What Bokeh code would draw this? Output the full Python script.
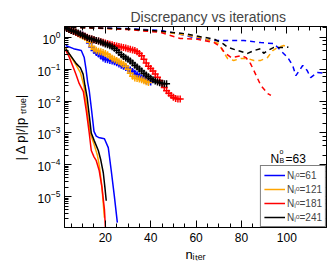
import numpy as np
from bokeh.plotting import figure
from bokeh.models import (Range1d, LinearAxis, LogAxis, Label, Legend, LegendItem,
                          SingleIntervalTicker, LogTicker, CustomJSTickFormatter)
from bokeh.embed import file_html
from bokeh.resources import INLINE

FONT = "Liberation Sans"
title_text = "Discrepancy vs iterations"
x_label = "n\u1d62\u209c\u2091\u1d63"
y_label = "| \u0394 p|/|p \u209c\u1d63\u1d64\u2091|"
annot_text = "63"
legend_values = ["61", "121", "181", "241"]
colors = ["#0000ff", "#ffa500", "#ff0000", "#000000"]

# ---- solid lines (n, log10 value) ----
blue_solid_n = [2.5, 6, 9.4, 10.7, 11.5, 12.2, 12.9, 13.8, 15, 16, 17, 19.6, 21.3, 22.6, 24, 25.3]
blue_solid_log = [-0.25, -0.35, -0.41, -0.63, -1.0, -1.4, -1.67, -2.2, -2.95, -3.1, -3.14, -3.18, -3.46, -4.18, -5.0, -5.82]
orange_solid_n = [2.5, 5, 7, 9, 10.5, 11.5, 12.5, 13.5, 15, 16.5, 17.5, 18.5, 19.6]
orange_solid_log = [-0.33, -0.62, -0.85, -1.1, -1.5, -2.0, -2.6, -3.05, -3.35, -3.7, -4.1, -4.7, -5.66]
red_solid_n = [2.5, 4, 5.9, 7, 8.5, 10.3, 11.6, 12.9, 13.8, 15, 16, 17.3, 18.5, 19.6, 20.2]
red_solid_log = [-0.4, -0.6, -0.94, -1.15, -1.45, -1.7, -2.3, -3.0, -3.55, -3.75, -3.87, -4.18, -4.7, -5.4, -6.2]
black_solid_n = [2.5, 5, 7.2, 9, 10.2, 11, 12, 13, 13.8, 15.1, 16.9, 18, 19.1, 19.8, 20.4]
black_solid_log = [-0.35, -0.6, -0.82, -0.95, -1.15, -1.5, -1.9, -2.5, -3.0, -3.24, -3.55, -3.85, -4.25, -4.7, -5.13]

# ---- "+" series, one value per iteration starting at n=2 (log10) ----
blue_plus_log = [0.31, 0.28, 0.25, 0.22, 0.19, 0.16, 0.13, 0.1, 0.07, 0.03, -0.05, -0.17, -0.3, -0.41,
                 -0.47, -0.52, -0.58, -0.64, -0.68, -0.7, -0.72, -0.74, -0.76, -0.79, -0.83, -0.87,
                 -0.9, -0.94, -0.98, -1.02, -1.07, -1.12, -1.17, -1.22, -1.27, -1.31, -1.35, -1.38, -1.4]
orange_plus_log = [0.31, 0.28, 0.25, 0.22, 0.19, 0.16, 0.12, 0.08, 0.04, 0.0, -0.04, -0.15, -0.28, -0.36,
                   -0.4, -0.43, -0.45, -0.47, -0.5, -0.54, -0.6, -0.65, -0.68, -0.72, -0.76, -0.8, -0.84,
                   -0.9, -1.0, -1.12, -1.22, -1.27, -1.29, -1.3, -1.33, -1.36, -1.39, -1.41]
red_plus_log = [0.31, 0.28, 0.25, 0.22, 0.19, 0.16, 0.13, 0.1, 0.07, 0.04, 0.01, -0.02, -0.05, -0.07,
                -0.09, -0.11, -0.13, -0.15, -0.17, -0.19, -0.21, -0.23, -0.25, -0.27, -0.28, -0.3, -0.31,
                -0.33, -0.35, -0.37, -0.39, -0.41, -0.45, -0.5, -0.57, -0.68, -0.8, -0.9, -0.97, -1.05,
                -1.15, -1.25, -1.35, -1.45, -1.57, -1.67, -1.75, -1.82, -1.88, -1.92, -1.93, -1.93]
black_plus_log = [0.31, 0.28, 0.25, 0.22, 0.2, 0.17, 0.14, 0.11, 0.07, 0.04, 0.0, -0.03, -0.05, -0.07,
                  -0.09, -0.11, -0.14, -0.17, -0.2, -0.23, -0.26, -0.29, -0.34, -0.4, -0.47, -0.54, -0.6,
                  -0.64, -0.68, -0.74, -0.8, -0.87, -0.93, -0.99, -1.05, -1.12, -1.18, -1.23, -1.28,
                  -1.33, -1.37, -1.4, -1.42, -1.44, -1.45, -1.45]

# ---- dashed lines (n, log10 value) ----
blue_dash_n = [1, 15, 30, 44.5, 52, 59, 66.4, 72.2, 81, 88.5, 94.4, 97.3, 100.4, 102.6, 104, 107, 109, 110.5, 113.5, 118]
blue_dash_log = [0.33, 0.31, 0.28, 0.22, 0.12, 0.0, -0.09, -0.09, -0.09, -0.16, -0.19, -0.41, -0.63, -0.88, -1.2, -0.88, -1.04, -1.26, -1.1, -1.13]
orange_dash_n = [1, 15, 30, 44.5, 55, 63, 70, 71.7, 73.9, 76.6, 79.7, 82.7, 85.5, 88.5, 91.5, 93.8, 96, 98.6, 100.7]
orange_dash_log = [0.33, 0.3, 0.26, 0.19, 0.08, -0.02, -0.19, -0.41, -0.66, -0.72, -0.66, -0.66, -0.72, -0.72, -0.63, -0.41, -0.31, -0.25, -0.31]
red_dash_n = [1, 15, 30, 44.5, 53, 60, 68, 71, 72.5, 75.5, 80, 82, 84, 85.5, 88.5, 91.6, 93]
red_dash_log = [0.33, 0.3, 0.25, 0.16, -0.03, -0.05, -0.16, -0.31, -0.47, -0.63, -0.57, -0.63, -0.82, -1.04, -1.5, -1.76, -1.82]
black_dash_n = [1, 15, 30, 44.5, 55, 60, 68, 72, 74, 78.4, 82.7, 85.5, 88.5, 89.8, 91.5, 94.3, 98.6, 100.7]
black_dash_log = [0.33, 0.3, 0.27, 0.2, 0.12, 0.05, -0.05, -0.2, -0.31, -0.41, -0.5, -0.41, -0.35, -0.5, -0.41, -0.31, -0.31, -0.3]

x_range = (2.0, 117.5)
y_range = (1.07e-6, 2.22)

p = figure(width=332, height=265, y_axis_type="log",
           x_range=Range1d(*x_range), y_range=Range1d(*y_range),
           output_backend="svg", toolbar_location=None,
           min_border_left=64, min_border_right=6, min_border_top=26, min_border_bottom=38)
p.xgrid.visible = False
p.ygrid.visible = False
p.outline_line_color = "black"
p.background_fill_color = "white"
p.border_fill_color = "white"

p.title.text = title_text
p.title.align = "left"
p.title.offset = 66
p.title.text_font = FONT
p.title.text_font_size = "14px"
p.title.text_font_style = "normal"
p.title.standoff = 4

blank = CustomJSTickFormatter(code="return ''")

def style_axis(ax, show_labels=True):
    ax.major_tick_in = 7
    ax.major_tick_out = 0
    ax.minor_tick_in = 4
    ax.minor_tick_out = 0
    ax.axis_line_color = "black"
    ax.major_tick_line_color = "black"
    ax.minor_tick_line_color = "black"
    ax.major_label_text_font = FONT
    ax.major_label_text_color = "black"
    ax.major_label_text_font_size = "12px"
    ax.axis_label_text_font = FONT
    ax.axis_label_text_font_style = "normal"
    ax.axis_label_text_color = "black"
    ax.axis_label_text_font_size = "13px"
    if not show_labels:
        ax.axis_label = None
        ax.formatter = blank
        ax.major_label_standoff = 0

xt = SingleIntervalTicker(interval=20, num_minor_ticks=4)
p.xaxis.ticker = xt
style_axis(p.xaxis[0])
p.xaxis[0].axis_label = x_label
p.xaxis[0].major_label_standoff = 5
p.xaxis[0].axis_label_standoff = 2
style_axis(p.yaxis[0])
p.yaxis[0].axis_label = y_label
p.yaxis[0].major_label_standoff = 4
p.yaxis[0].axis_label_standoff = 7

top = LinearAxis(ticker=SingleIntervalTicker(interval=20, num_minor_ticks=4))
style_axis(top, False)
p.add_layout(top, "above")
right = LogAxis(ticker=LogTicker())
style_axis(right, False)
p.add_layout(right, "right")

solid_n = [blue_solid_n, orange_solid_n, red_solid_n, black_solid_n]
solid_log = [blue_solid_log, orange_solid_log, red_solid_log, black_solid_log]
plus_log = [blue_plus_log, orange_plus_log, red_plus_log, black_plus_log]
dash_n = [blue_dash_n, orange_dash_n, red_dash_n, black_dash_n]
dash_log = [blue_dash_log, orange_dash_log, red_dash_log, black_dash_log]

for i in range(4):
    p.line(dash_n[i], 10 ** np.array(dash_log[i]), color=colors[i], line_width=1.5, line_dash="5 4")

for i in range(4):
    n = np.arange(2, 2 + len(plus_log[i]))
    p.scatter(n, 10 ** np.array(plus_log[i]), marker="cross", size=7, line_width=1.5,
              color=colors[i])

solid_renderers = []
for i in range(4):
    r = p.line(solid_n[i], 10 ** np.array(solid_log[i]), color=colors[i], line_width=1.5)
    solid_renderers.append(r)

items = [LegendItem(label="N\u1d62\u1d52=" + v, renderers=[r]) for v, r in zip(legend_values, solid_renderers)]
legend = Legend(items=items, location="bottom_right", margin=0, padding=3, spacing=2,
                glyph_width=21, glyph_height=12, label_height=12, label_standoff=2,
                label_text_font=FONT, label_text_font_size="10px",
                border_line_color="black", border_line_width=1,
                background_fill_color="white", background_fill_alpha=1.0)
p.add_layout(legend, "center")

FL, FB = 64, 227  # frame left / bottom on page

def lab(text, px, py, size):
    p.add_layout(Label(x=px - FL, y=FB - py, x_units="screen", y_units="screen", text=text,
                       text_font=FONT, text_font_size=size, text_align="left",
                       text_baseline="alphabetic", text_color="black"))

# N_B^o = 63
lab("N", 270, 158, "12px")
lab("o", 279, 151, "7px")
lab("B", 279, 160, "7px")
lab("=" + annot_text, 285, 158, "12px")

open("out.html", "w").write(file_html(p, INLINE))
